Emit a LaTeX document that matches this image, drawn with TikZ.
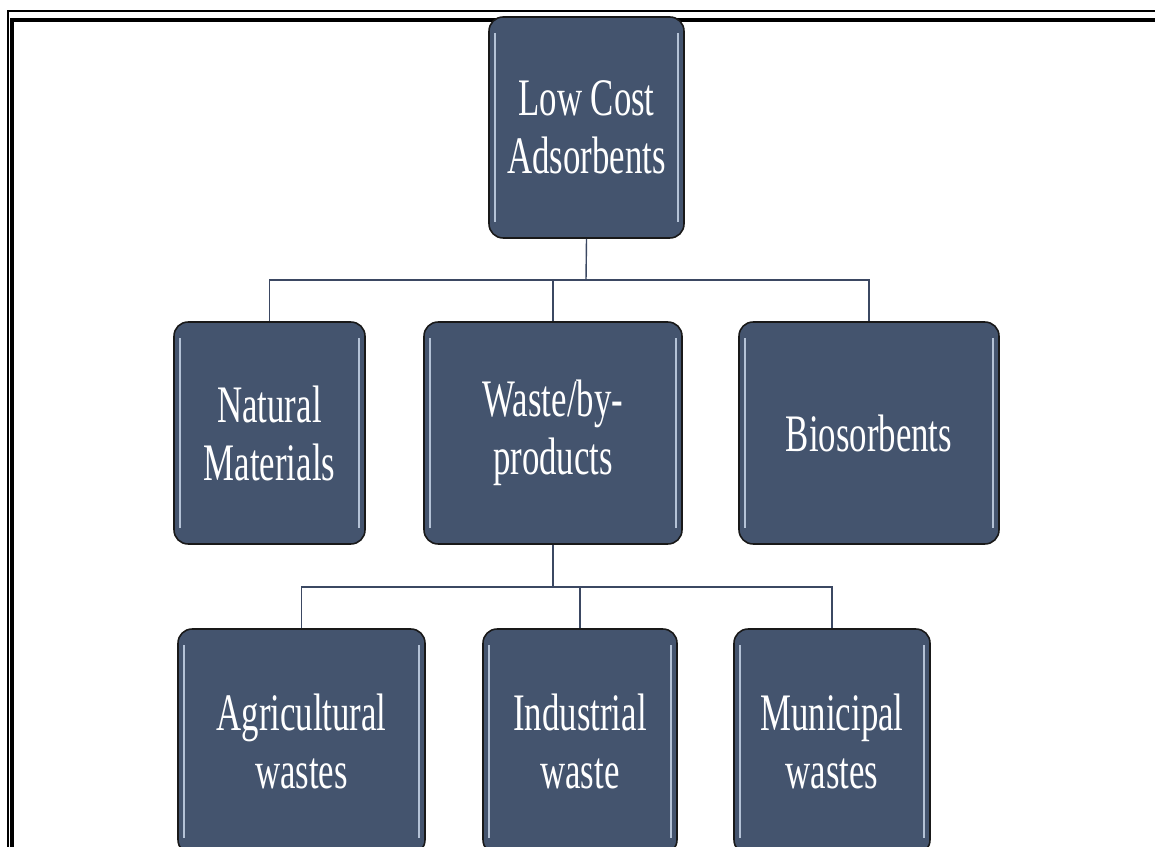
\documentclass[tikz,border=0pt]{standalone}
\usepackage{fontspec}
\setmainfont{Liberation Serif}[FakeStretch=0.66]
\definecolor{kastenfill}{HTML}{44546E}
\definecolor{glanz}{HTML}{B4C2D6}
\definecolor{liniefarbe}{HTML}{3B4862}

\begin{document}
\begin{tikzpicture}[x=0.02cm, y=-0.02cm,
    kasten/.style={draw=black!90, line width=0.9pt, fill=kastenfill, rounded corners=0.28cm,
        text=white, align=center, inner sep=0pt, font=\fontsize{30}{33}\selectfont,
        path picture={
            \draw[glanz, line width=1.2pt] ([xshift=0.12cm,yshift=-0.32cm]path picture bounding box.north west)
                -- ([xshift=0.12cm,yshift=0.32cm]path picture bounding box.south west);
            \draw[glanz, line width=1.2pt] ([xshift=-0.12cm,yshift=-0.32cm]path picture bounding box.north east)
                -- ([xshift=-0.12cm,yshift=0.32cm]path picture bounding box.south east);
        }},
    verbindung/.style={draw=liniefarbe, line width=0.8pt}]
    \useasboundingbox (0,0) rectangle (1155,847);
    \clip (0,0) rectangle (1155,847);

    % Rahmen
    \draw[line width=1.1pt] (8,860) -- (8,11) -- (1170,11);
    \draw[line width=2pt] (12,860) -- (12,20) -- (1170,20);

    % Kaesten
    \node[kasten, minimum width=3.9cm, minimum height=4.42cm] (lowcost) at (586.5,127.5) {Low Cost\\Adsorbents};

    \node[kasten, minimum width=3.82cm, minimum height=4.44cm] (natural) at (269.5,433) {Natural\\Materials};
    \node[kasten, minimum width=5.16cm, minimum height=4.44cm] (waste) at (553,433) {Waste/by-\\products};
    \node[kasten, minimum width=5.2cm, minimum height=4.44cm] (bio) at (869,433) {Biosorbents};

    \node[kasten, minimum width=4.94cm, minimum height=4.5cm] (agri) at (301.5,741.5) {Agricultural\\wastes};
    \node[kasten, minimum width=3.88cm, minimum height=4.5cm] (indus) at (580,741.5) {Industrial\\waste};
    \node[kasten, minimum width=3.92cm, minimum height=4.5cm] (muni) at (832,741.5) {Municipal\\wastes};

    % Verbindungen
    \coordinate (bus1) at (586,280);
    \coordinate (bus2) at (553,587);
    \draw[verbindung] (lowcost.south) -- (bus1);
    \draw[verbindung] (natural.north) |- (bus1) -| (bio.north);
    \draw[verbindung] (waste.north) -- (waste.north |- bus1);
    \draw[verbindung] (waste.south) -- (bus2);
    \draw[verbindung] (agri.north) |- (bus2) -| (muni.north);
    \draw[verbindung] (indus.north) -- (indus.north |- bus2);
\end{tikzpicture}
\end{document}
